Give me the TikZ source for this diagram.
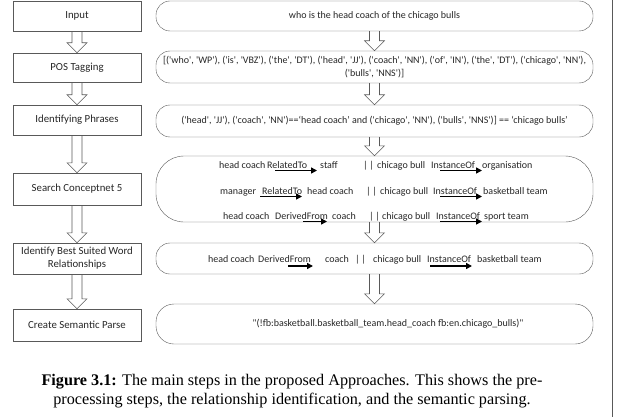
\documentclass[tikz,border=0pt]{standalone}
\usepackage{fontspec}
\setmainfont{Liberation Serif}
\newfontfamily\boxfont{Carlito}
\usetikzlibrary{calc,arrows.meta}
\definecolor{linegray}{HTML}{595959}
\definecolor{txtgray}{HTML}{262626}

\begin{document}
\begin{tikzpicture}[x=1pt, y=-1pt,
    stepbox/.style={draw=linegray, minimum width=128pt, align=center, inner sep=1pt,
        font=\boxfont\fontsize{10.8}{13}\selectfont, text=txtgray},
    phrasebox/.style={draw=linegray, rounded corners=14pt, minimum width=437pt, align=center,
        inner sep=1pt, font=\boxfont\fontsize{10}{13}\selectfont, text=txtgray},
    word/.style={anchor=base west, inner sep=0pt, font=\boxfont\fontsize{10}{12}\selectfont, text=txtgray},
    relarrow/.style={-{Triangle[length=6pt,width=6pt]}, line width=1.8pt, black},
    hollowarrow/.style={draw=linegray, line width=0.6pt, line join=miter},
    caption/.style={align=center, inner sep=0pt, font=\fontsize{16.2}{19.5}\selectfont}]
    \useasboundingbox (0,0) rectangle (617,417);

    % Steps
    \node[stepbox, minimum height=30pt] (in) at (77,16) {Input};
    \node[stepbox, minimum height=29pt] (pos) at (77,67.5) {POS Tagging};
    \node[stepbox, minimum height=30pt] (phr) at (77,120) {Identifying Phrases};
    \node[stepbox, minimum height=32pt] (srch) at (77,189) {Search Conceptnet 5};
    \node[stepbox, minimum height=31pt] (best) at (77,258.5) {Identify Best Suited Word\\Relationships};
    \node[stepbox, minimum height=32pt] (parse) at (77,325) {Create Semantic Parse};

    % Outputs
    \node[phrasebox, minimum height=30pt] (q) at (374.5,16) {who is the head coach of the chicago bulls};
    \node[phrasebox, minimum height=32pt] (tags) at (374.5,67) {[('who', 'WP'), ('is', 'VBZ'), ('the', 'DT'), ('head', 'JJ'), ('coach', 'NN'), ('of', 'IN'), ('the', 'DT'), ('chicago', 'NN'),\\('bulls', 'NNS')]};
    \node[phrasebox, minimum height=32pt] (phrs) at (374.5,121) {('head', 'JJ'), ('coach', 'NN')==‘head coach’ and ('chicago', 'NN'), ('bulls', 'NNS')] == ‘chicago bulls’};
    \node[phrasebox, minimum height=66pt, rounded corners=28pt] (cn) at (374.5,189) {};
    \node[phrasebox, minimum height=31pt] (rels) at (374.5,258.5) {};
    \node[phrasebox, minimum height=40pt, rounded corners=18pt] (sp) at (374.5,324) {\hspace{27pt}"(!fb:basketball.basketball\_team.head\_coach fb:en.chicago\_bulls)"};

    % Conceptnet lines
    \node[word] (w1a) at (219,168) {head coach};
    \node[word] (w1b) at (267,168) {RelatedTo};
    \node[word] (w1c) at (320,168) {staff};
    \node[word] (w1d) at (363,168) {|\,|};
    \node[word] (w1e) at (377,168) {chicago bull};
    \node[word] (w1f) at (431,168) {InstanceOf};
    \node[word] (w1g) at (482,168) {organisation};

    \node[word] (w2a) at (220,194) {manager};
    \node[word] (w2b) at (262,194) {RelatedTo};
    \node[word] (w2c) at (307,194) {head coach};
    \node[word] (w2d) at (366,194) {|\,|};
    \node[word] (w2e) at (380,194) {chicago bull};
    \node[word] (w2f) at (433,194) {InstanceOf};
    \node[word] (w2g) at (483,194) {basketball team};

    \node[word] (w3a) at (223,219) {head coach};
    \node[word] (w3b) at (275,219) {DerivedFrom};
    \node[word] (w3c) at (332,219) {coach};
    \node[word] (w3d) at (369,219) {|\,|};
    \node[word] (w3e) at (382,219) {chicago bull};
    \node[word] (w3f) at (436,219) {InstanceOf};
    \node[word] (w3g) at (484,219) {sport team};

    % Best relationships
    \node[word] (w4a) at (208,262) {head coach};
    \node[word] (w4b) at (258,262) {DerivedFrom};
    \node[word] (w4c) at (325,262) {coach};
    \node[word] (w4d) at (355,262) {|\,|};
    \node[word] (w4e) at (373,262) {chicago bull};
    \node[word] (w4f) at (427,262) {InstanceOf};
    \node[word] (w4g) at (477,262) {basketball team};

    % Relation arrows
    \draw[relarrow] ([shift={(8,2.5)}]w1b.base west) -- ([shift={(50,2.5)}]w1b.base west);
    \draw[relarrow] ([shift={(9,2.5)}]w1f.base west) -- ([shift={(51,2.5)}]w1f.base west);
    \draw[relarrow] ([shift={(-2,2.5)}]w2b.base west) -- ([shift={(40,2.5)}]w2b.base west);
    \draw[relarrow] ([shift={(7,2.5)}]w2f.base west) -- ([shift={(49,2.5)}]w2f.base west);
    \draw[relarrow] ([shift={(28,2.5)}]w3b.base west) -- ([shift={(52,2.5)}]w3b.base west);
    \draw[relarrow] ([shift={(4,2.5)}]w3f.base west) -- ([shift={(46,2.5)}]w3f.base west);
    \draw[relarrow] ([shift={(30,4)}]w4b.base west) -- ([shift={(55,4)}]w4b.base west);
    \draw[relarrow] ([shift={(3,4)}]w4f.base west) -- ([shift={(45,4)}]w4f.base west);

    % Block arrows
    \foreach \a/\b in {in/pos, pos/phr, phr/srch, srch/best, best/parse, q/tags, tags/phrs, phrs/cn, cn/rels, rels/sp}
        \draw[hollowarrow] ($(\a.south)+(-5,0)$) -- ($(\b.north)+(-5,-10)$) -- ($(\b.north)+(-10,-10)$)
            -- (\b.north) -- ($(\b.north)+(10,-10)$) -- ($(\b.north)+(5,-10)$) -- ($(\a.south)+(5,0)$);

    % Frame
    \draw[linegray, line width=0.8pt] (612,0) -- (612,417);

    % Caption
    \node[caption] (cap) at (292,391) {\textbf{Figure 3.1:} The main steps in the proposed Approaches. This shows the pre-\\processing steps, the relationship identification, and the semantic parsing.};
\end{tikzpicture}
\end{document}
